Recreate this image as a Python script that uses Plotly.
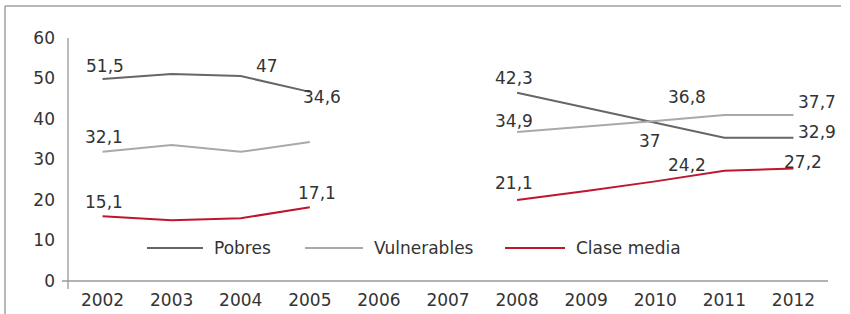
import plotly.graph_objects as go

# ---------------- data ----------------
years = ["2002", "2003", "2004", "2005", "2006", "2007",
         "2008", "2009", "2010", "2011", "2012"]
pobres = [49.9, 51.1, 50.6, 46.7, None, None, 46.5, 42.8, 39.1, 35.4, 35.4]
vulnerables = [31.9, 33.6, 31.9, 34.3, None, None, 36.8, 38.1, 39.5, 41.0, 41.0]
clase_media = [16.0, 15.0, 15.5, 18.2, None, None, 20.0, 22.2, 24.6, 27.2, 27.8]
y_ticks = [0, 10, 20, 30, 40, 50, 60]

# data labels as printed in the source (text, year, level)
label_texts = ["51,5", "47", "34,6", "32,1", "15,1", "17,1",
               "42,3", "34,9", "21,1", "36,8", "37", "24,2",
               "37,7", "32,9", "27,2"]
label_years = ["2002", "2004", "2005", "2002", "2002", "2005",
               "2008", "2008", "2008", "2010", "2010", "2010",
               "2012", "2012", "2012"]
label_levels = [53.1, 53.1, 45.4, 35.6, 19.5, 21.7,
                50.1, 39.5, 24.2, 45.4, 34.6, 28.6,
                44.2, 36.8, 29.4]
label_shifts = [2, 26, 12, 1, 1, 7, -3, -3, -3, 32, -5, 32, 24, 24, 10]

series_names = ["Pobres", "Vulnerables", "Clase media"]
series_colors = ["#666666", "#a9a9a9", "#c0152f"]

FONT = "DejaVu Sans"
FS = 17
TXT = "#333333"

fig = go.Figure()
for name, vals, col in zip(series_names, [pobres, vulnerables, clase_media], series_colors):
    fig.add_trace(go.Scatter(x=years, y=vals, mode="lines", name=name,
                             line=dict(color=col, width=2), connectgaps=False,
                             showlegend=False, hoverinfo="skip"))

# plot area geometry in pixels (for decorations)
L, R, T, B = 68, 828, 38, 281
W, H = R - L, B - T
px = lambda x: (x - L) / W
py = lambda y: (B - y) / H

annotations = []
for t, yr, lv, sh in zip(label_texts, label_years, label_levels, label_shifts):
    annotations.append(dict(x=years.index(yr), y=lv, xref="x", yref="y", text=t,
                            showarrow=False, xshift=sh,
                            font=dict(family=FONT, size=FS, color=TXT),
                            xanchor="center", yanchor="middle"))

shapes = []
# frame (top and left)
shapes.append(dict(type="line", xref="paper", yref="paper", x0=px(5), x1=px(841),
                   y0=py(6), y1=py(6), line=dict(color="#a0a0a0", width=1.5)))
shapes.append(dict(type="line", xref="paper", yref="paper", x0=px(5), x1=px(5),
                   y0=py(6), y1=py(330), line=dict(color="#a0a0a0", width=1.5)))
# axes
shapes.append(dict(type="line", xref="paper", yref="paper", x0=0, x1=0,
                   y0=py(289), y1=1, line=dict(color="#777777", width=1)))
shapes.append(dict(type="line", xref="paper", yref="paper", x0=px(62), x1=1,
                   y0=0, y1=0, line=dict(color="#999999", width=1.5)))

# legend (drawn manually)
leg_y = py(248)
leg_items = [(147, 203, 212), (305, 363, 372), (505, 565, 574)]
for (x0, x1, tx), name, col in zip(leg_items, series_names, series_colors):
    shapes.append(dict(type="line", xref="paper", yref="paper", x0=px(x0), x1=px(x1),
                       y0=leg_y, y1=leg_y, line=dict(color=col, width=2)))
    annotations.append(dict(x=px(tx), y=leg_y, xref="paper", yref="paper", text=name,
                            showarrow=False, xanchor="left", yanchor="middle",
                            font=dict(family=FONT, size=FS, color=TXT)))

fig.update_layout(
    width=850, height=314,
    margin=dict(l=L, r=850 - R, t=T, b=314 - B, autoexpand=False),
    paper_bgcolor="white", plot_bgcolor="white",
    font=dict(family=FONT, size=FS, color=TXT),
    showlegend=False, hovermode=False,
    annotations=annotations, shapes=shapes,
    xaxis=dict(type="category", categoryorder="array", categoryarray=years,
               range=[-0.5, 10.5], showgrid=False, zeroline=False, showline=False,
               ticks="", tickfont=dict(family=FONT, size=FS, color=TXT),
               ticklabelstandoff=7, automargin=False),
    yaxis=dict(range=[0, 60], tickvals=y_ticks, showgrid=False, zeroline=False,
               showline=False, ticks="", tickfont=dict(family=FONT, size=FS, color=TXT),
               ticklabelstandoff=12, automargin=False),
)

fig.write_html("out.html", config={"displayModeBar": False, "staticPlot": True},
               post_script="document.body.style.margin='0';document.body.style.overflow='hidden';")
